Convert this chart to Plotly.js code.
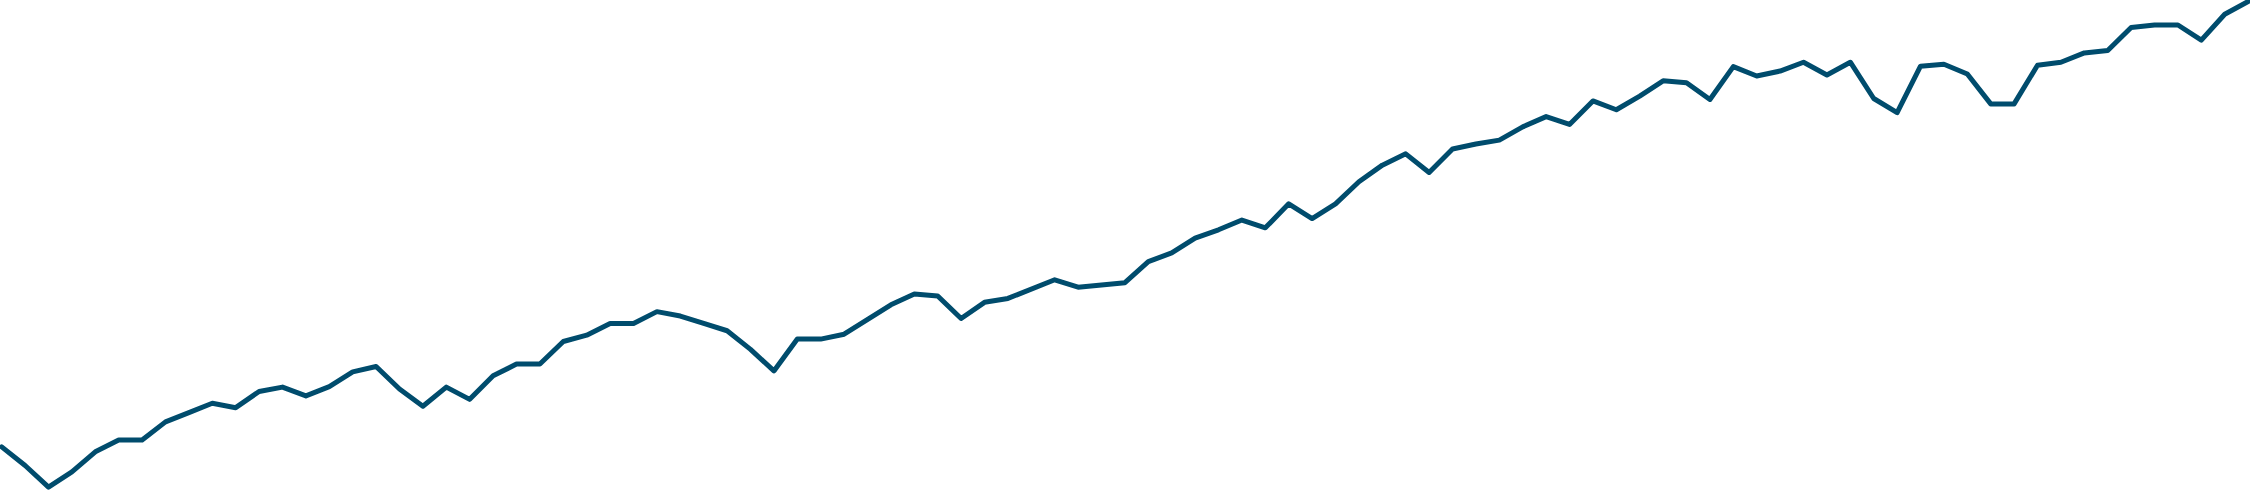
<!DOCTYPE html>
<html>
<head>
<meta charset="utf-8">
<script src="https://cdn.plot.ly/plotly-3.0.1.min.js"></script>
<style>
html,body{margin:0;padding:0;background:#fff;}
#chart{width:2250px;height:492px;}
</style>
</head>
<body>
<div id="chart"></div>
<script>
var values = [
  8.8, 5.0, 0.6, 3.7, 7.8, 10.2, 10.2, 13.9, 15.8, 17.7,
  16.8, 20.1, 21.0, 19.2, 21.1, 24.1, 25.2, 20.6, 17.1, 21.0,
  18.5, 23.3, 25.7, 25.7, 30.3, 31.6, 34.0, 34.0, 36.4, 35.5,
  34.0, 32.5, 28.7, 24.3, 30.8, 30.8, 31.8, 34.7, 37.8, 40.0,
  39.6, 35.0, 38.3, 39.1, 41.1, 42.9, 41.4, 41.8, 42.3, 46.6,
  48.4, 51.4, 53.1, 55.1, 53.5, 58.4, 55.4, 58.4, 62.9, 66.3,
  68.6, 64.8, 69.6, 70.6, 71.4, 74.1, 76.2, 74.6, 79.4, 77.6,
  80.4, 83.5, 83.1, 79.7, 86.4, 84.5, 85.5, 87.3, 84.7, 87.3,
  79.9, 77.0, 86.5, 86.9, 84.9, 78.8, 78.8, 86.7, 87.3, 89.2,
  89.7, 94.4, 94.9, 94.9, 91.8, 97.1, 99.7
];
var periods = values.map(function(_, i){ return i; });

var trace = {
  x: periods,
  y: values,
  type: 'scatter',
  mode: 'lines',
  line: {color: '#004c6d', width: 5},
  hoverinfo: 'skip'
};

var layout = {
  width: 2250,
  height: 492,
  margin: {l: 0, r: 0, t: 0, b: 0, pad: 0},
  paper_bgcolor: '#ffffff',
  plot_bgcolor: '#ffffff',
  showlegend: false,
  xaxis: {range: [-0.0726, 96.08], visible: false, fixedrange: true},
  yaxis: {range: [-0.408, 100], visible: false, fixedrange: true}
};

Plotly.newPlot('chart', [trace], layout, {displayModeBar: false, staticPlot: true}).then(function(){
  var paths = document.querySelectorAll('.scatterlayer path.js-line');
  paths.forEach(function(p){ p.style.strokeLinejoin = 'round'; p.style.strokeLinecap = 'round'; });
});
</script>
</body>
</html>
